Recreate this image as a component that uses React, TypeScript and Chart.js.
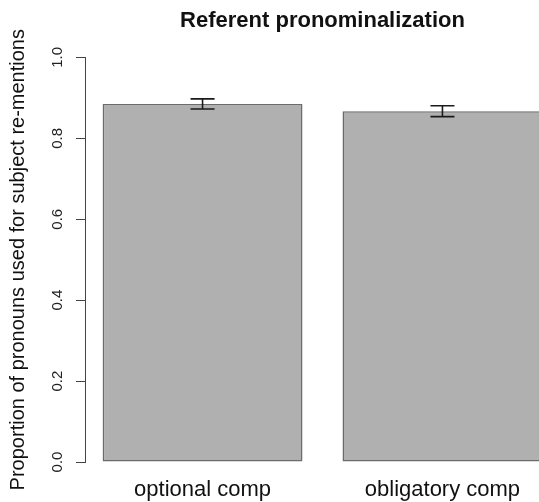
import React, { useEffect, useRef } from "react";
import { Chart, registerables } from "chart.js";

Chart.register(...registerables);

const chartTitle = "Referent pronominalization";
const yAxisTitle = "Proportion of pronouns used for subject re-mentions";
const categories = ["optional comp", "obligatory comp"];
const means = [0.885, 0.867];
const stdErrors = [0.0125, 0.0135];
const yTickValues = [0, 0.2, 0.4, 0.6, 0.8, 1.0];

const FONT = "'Liberation Sans', Arial, Helvetica, sans-serif";

const errorBarPlugin = {
  id: "errorBars",
  afterDatasetsDraw(chart: any) {
    const meta = chart.getDatasetMeta(0);
    const yScale = chart.scales.y;
    const ctx = chart.ctx;
    ctx.save();
    ctx.strokeStyle = "#1a1a1a";
    ctx.lineWidth = 1.6;
    meta.data.forEach((bar: any, i: number) => {
      const x = bar.x;
      const yHi = yScale.getPixelForValue(means[i] + stdErrors[i]);
      const yLo = yScale.getPixelForValue(means[i] - stdErrors[i]);
      const cap = 12;
      ctx.beginPath();
      ctx.moveTo(x, yHi);
      ctx.lineTo(x, yLo);
      ctx.moveTo(x - cap, yHi);
      ctx.lineTo(x + cap, yHi);
      ctx.moveTo(x - cap, yLo);
      ctx.lineTo(x + cap, yLo);
      ctx.stroke();
    });
    ctx.restore();
  },
};

const yTitlePlugin = {
  id: "yTitle",
  afterDraw(chart: any) {
    const { ctx, chartArea } = chart;
    ctx.save();
    ctx.translate(18, (chartArea.top + chartArea.bottom) / 2);
    ctx.rotate(-Math.PI / 2);
    ctx.textAlign = "center";
    ctx.textBaseline = "middle";
    ctx.fillStyle = "#111";
    ctx.font = `20px ${FONT}`;
    ctx.fillText(yAxisTitle, 0, 0);
    ctx.restore();
  },
};

export default function App() {
  const canvasRef = useRef<HTMLCanvasElement | null>(null);

  useEffect(() => {
    if (!canvasRef.current) return;
    const chart = new Chart(canvasRef.current, {
      type: "bar",
      data: {
        datasets: [
          {
            data: means.map((m, i) => ({ x: i + 1, y: m })),
            backgroundColor: "#b0b0b0",
            borderColor: "#6b6b6b",
            borderWidth: 1.5,
            borderSkipped: false,
            barPercentage: 1 / 1.2,
            categoryPercentage: 1,
          },
        ],
      },
      options: {
        animation: false,
        responsive: false,
        devicePixelRatio: 1,
        layout: { padding: 0 },
        plugins: {
          legend: { display: false },
          tooltip: { enabled: false },
          title: {
            display: true,
            text: chartTitle,
            fullSize: false,
            color: "#111",
            font: { family: FONT, size: 22, weight: "bold" },
            padding: { top: 8, bottom: 23 },
          },
        },
        scales: {
          x: {
            type: "linear",
            offset: false,
            min: 0.51,
            max: 2.49,
            afterBuildTicks: (scale: any) => {
              scale.ticks = categories.map((_, i) => ({ value: i + 1 }));
            },
            afterFit: (scale: any) => {
              scale.height = 40;
            },
            border: { display: false },
            grid: { display: false, drawTicks: false, offset: false },
            ticks: {
              autoSkip: false,
              maxRotation: 0,
              minRotation: 0,
              padding: 14.5,
              color: "#111",
              font: { family: FONT, size: 22 },
              callback: (v: any) => categories[Math.round(Number(v)) - 1] ?? "",
            },
          },
          y: {
            min: 0,
            max: 1,
            afterBuildTicks: (scale: any) => {
              scale.ticks = yTickValues.map((v) => ({ value: v }));
            },
            afterFit: (scale: any) => {
              scale.width = 85;
            },
            border: { display: true, color: "#444", width: 1 },
            grid: {
              display: true,
              drawOnChartArea: false,
              drawTicks: true,
              tickLength: 9,
              color: "#444",
              lineWidth: 1,
            },
            ticks: {
              minRotation: 90,
              maxRotation: 90,
              crossAlign: "center",
              padding: 8,
              color: "#222",
              font: { family: FONT, size: 15 },
              callback: (v: any) => Number(v).toFixed(1),
            },
          },
        },
      },
      plugins: [errorBarPlugin, yTitlePlugin],
    } as any);
    return () => chart.destroy();
  }, []);

  return (
    <div
      style={{
        position: "fixed",
        left: 0,
        top: 0,
        width: 539,
        height: 502,
        overflow: "hidden",
        background: "#fff",
      }}
    >
      <canvas
        ref={canvasRef}
        width={560}
        height={502}
        style={{ display: "block", width: 560, height: 502 }}
      />
    </div>
  );
}
